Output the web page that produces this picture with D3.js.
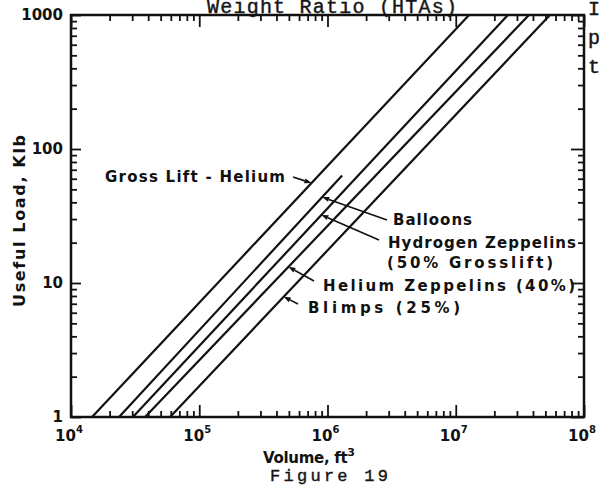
<!DOCTYPE html>
<html>
<head>
<meta charset="utf-8">
<script src="https://cdn.jsdelivr.net/npm/d3@7"></script>
<style>
  body { margin: 0; background: #fff; }
  svg { display: block; background: #fff; }
  .lbl { font-family: "DejaVu Sans", sans-serif; font-weight: bold; fill: #111; }
  .type { font-family: "Liberation Mono", monospace; fill: #151515; stroke: #151515; stroke-width: 0.4; }
</style>
</head>
<body>
<svg id="chart" width="600" height="485"></svg>
<script>
// lines, left to right
const seriesNames = ["Gross Lift - Helium", "Balloons", "Hydrogen Zeppelins", "Helium Zeppelins", "Blimps"];
// volume in ft^3 at the two ends of each line
const seriesVolumes = [[1.46e4, 1.27e7], [2.37e4, 1.30e6], [3.04e4, 2.55e7], [3.78e4, 3.72e7], [5.92e4, 5.43e7]];
// useful load in Klb at the two ends
const seriesLoads = [[1, 1000], [1, 63.4], [1, 1000], [1, 1000], [1, 1000]];
// load where each callout arrow meets its line
const calloutLoads = [55.7, 43.8, 32.2, 13.2, 7.9];
const calloutTexts = [["Gross Lift - Helium"], ["Balloons"], ["Hydrogen  Zeppelins", "(50% Grosslift)"], ["Helium Zeppelins (40%)"], ["Blimps (25%)"]];

const xTickValues = [1e4, 1e5, 1e6, 1e7, 1e8];
const xTickExponents = ["4", "5", "6", "7", "8"];
const yTickValues = [1, 10, 100, 1000];
const yTickLabels = ["1", "10", "100", "1000"];

// where the callout texts and arrow tails sit (pixels)
const calloutLayout = [
  { tail: [293, 177], text: [[105, 182, 180]] },
  { tail: [387, 220], text: [[393, 225, 79]] },
  { tail: [379, 240], text: [[388, 248, 188], [387, 268, 166]] },
  { tail: [314, 281], text: [[323, 291, 252]] },
  { tail: [298, 304], text: [[308, 313, 152]] },
];

const svg = d3.select("#chart");
const plotLeft = 71, plotRight = 584, plotTop = 15, plotBottom = 417;

const x = d3.scaleLog().domain([1e4, 1e8]).range([plotLeft, plotRight]);
const y = d3.scaleLog().domain([1, 1000]).range([plotBottom, plotTop]);

const isMajor = (d) => Math.abs(Math.log10(d) - Math.round(Math.log10(d))) < 1e-9;

// axes on all four sides, ticks pointing inward
function styleAxis(g, major) {
  g.select(".domain").remove();
  g.selectAll(".tick line").attr("stroke", "#111").attr("stroke-width", 1.8);
  g.selectAll(".tick")
    .filter((d) => isMajor(d))
    .select("line")
    .each(function () {
      const el = d3.select(this);
      if (el.attr("x2") !== null && +el.attr("x2") !== 0) el.attr("x2", +el.attr("x2") > 0 ? major : -major);
      if (el.attr("y2") !== null && +el.attr("y2") !== 0) el.attr("y2", +el.attr("y2") > 0 ? major : -major);
    });
}

svg.append("g")
  .attr("transform", `translate(0,${plotBottom})`)
  .call(d3.axisBottom(x).tickSize(-6).tickFormat(""))
  .call((g) => styleAxis(g, 12));

svg.append("g")
  .attr("transform", `translate(0,${plotTop})`)
  .call(d3.axisTop(x).tickSize(-6).tickFormat(""))
  .call((g) => styleAxis(g, 12));

svg.append("g")
  .attr("transform", `translate(${plotRight},0)`)
  .call(d3.axisRight(y).tickSize(-6).tickFormat(""))
  .call((g) => styleAxis(g, 13));

const yAxis = svg.append("g")
  .attr("transform", `translate(${plotLeft},0)`)
  .call(d3.axisLeft(y).tickSize(-6).tickPadding(8)
    .tickFormat((d) => {
      const i = yTickValues.findIndex((v) => Math.abs(v - d) < 1e-6);
      return i >= 0 ? yTickLabels[i] : "";
    }))
  .call((g) => styleAxis(g, 10));

yAxis.attr("font-family", null).attr("font-size", null);
yAxis.selectAll("text")
  .attr("class", "lbl")
  .attr("font-size", 15)
  .attr("fill", "#111");

// frame
svg.append("rect")
  .attr("x", plotLeft).attr("y", plotTop)
  .attr("width", plotRight - plotLeft).attr("height", plotBottom - plotTop)
  .attr("fill", "none").attr("stroke", "#111").attr("stroke-width", 2.5);

// x tick labels 10^n
const xl = svg.append("g").selectAll("text")
  .data(xTickValues)
  .join("text")
  .attr("class", "lbl")
  .attr("font-size", 15)
  .attr("text-anchor", "middle")
  .attr("x", (d) => x(d) - 2)
  .attr("y", 441);
xl.append("tspan").text("10");
xl.append("tspan").attr("font-size", 10).attr("dy", -8).text((d, i) => xTickExponents[i]);

// lines
const lineGen = d3.line().x((d) => x(d[0])).y((d) => y(d[1]));
svg.append("g").selectAll("path")
  .data(seriesNames.map((n, i) => seriesVolumes[i].map((v, j) => [v, seriesLoads[i][j]])))
  .join("path")
  .attr("d", lineGen)
  .attr("fill", "none")
  .attr("stroke", "#111")
  .attr("stroke-width", 2.2);

// callouts
function pointOnLine(i, load) {
  const [v0, v1] = seriesVolumes[i];
  const [l0, l1] = seriesLoads[i];
  const t = (Math.log10(load) - Math.log10(l0)) / (Math.log10(l1) - Math.log10(l0));
  const lv = Math.log10(v0) + t * (Math.log10(v1) - Math.log10(v0));
  return [x(Math.pow(10, lv)), y(load)];
}

const callouts = svg.append("g");
calloutLoads.forEach((load, i) => {
  const [hx, hy] = pointOnLine(i, load);
  const [tx, ty] = calloutLayout[i].tail;
  const ang = Math.atan2(hy - ty, hx - tx);
  const len = 7, half = 2.6;
  const bx = hx - len * Math.cos(ang), by = hy - len * Math.sin(ang);
  callouts.append("line")
    .attr("x1", tx).attr("y1", ty).attr("x2", bx).attr("y2", by)
    .attr("stroke", "#111").attr("stroke-width", 1.6);
  callouts.append("path")
    .attr("d", `M${hx},${hy}L${bx - half * Math.sin(ang)},${by + half * Math.cos(ang)}L${bx + half * Math.sin(ang)},${by - half * Math.cos(ang)}Z`)
    .attr("fill", "#111");
  calloutTexts[i].forEach((t, k) => {
    const [px, py, w] = calloutLayout[i].text[k];
    callouts.append("text")
      .attr("class", "lbl")
      .attr("font-size", 15)
      .attr("x", px).attr("y", py)
      .attr("textLength", w)
      .attr("lengthAdjust", "spacing")
      .text(t);
  });
});

// axis titles
svg.append("text")
  .attr("class", "lbl")
  .attr("font-size", 16)
  .attr("text-anchor", "middle")
  .attr("transform", "translate(25,221) rotate(-90)")
  .attr("textLength", 172)
  .attr("lengthAdjust", "spacing")
  .text("Useful Load, Klb");

const xt = svg.append("text")
  .attr("class", "lbl")
  .attr("font-size", 15)
  .attr("x", 263).attr("y", 463)
  .attr("textLength", 92).attr("lengthAdjust", "spacing");
xt.append("tspan").text("Volume, ft");
xt.append("tspan").attr("font-size", 11).attr("dy", -7).text("3");

// typed page text around the figure
svg.append("text").attr("class", "type").attr("font-size", 17)
  .attr("x", 270).attr("y", 481).attr("textLength", 118).attr("lengthAdjust", "spacing")
  .text("Figure 19");
svg.append("text").attr("class", "type").attr("font-size", 20)
  .attr("x", 207).attr("y", 13).attr("textLength", 250).attr("lengthAdjust", "spacing")
  .text("Weight Ratio (HTAs)");
svg.append("line")
  .attr("x1", 207).attr("x2", 462).attr("y1", plotTop).attr("y2", plotTop)
  .attr("stroke", "#111").attr("stroke-width", 1.5);
["I", "p", "t"].forEach((c, i) => {
  svg.append("text").attr("class", "type").attr("font-size", 20)
    .attr("x", 588).attr("y", 15 + i * 29).text(c);
});
</script>
</body>
</html>
